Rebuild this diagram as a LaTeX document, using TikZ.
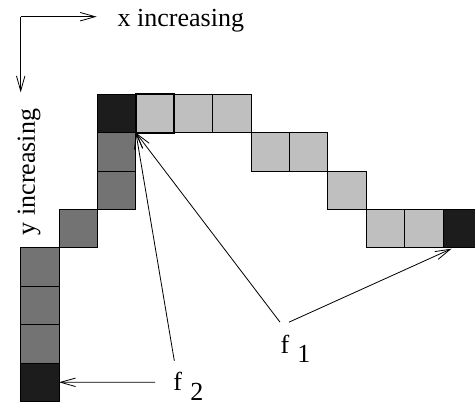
\documentclass[tikz,border=0pt]{standalone}
\usepackage{fontspec}
\setmainfont{Liberation Serif}
\usetikzlibrary{arrows.meta,positioning,calc}
\definecolor{cellblack}{gray}{0.11}
\definecolor{celldark}{gray}{0.45}
\definecolor{celllight}{gray}{0.75}
\tikzset{every picture/.style={line width=0.75pt}}
\tikzset{
  arr/.style={-{Straight Barb[length=3.9mm,width=2.2mm]}, line width=0.6pt},
  lbl/.style={inner sep=0pt, font=\fontsize{19.3}{23}\selectfont},
}

\begin{document}
\begin{tikzpicture}
    \useasboundingbox (-0.539,2.456) rectangle (11.831,-8.091);
    % Achsen
    \coordinate (o) at (0,2.021);
    \coordinate (xe) at (1.979,2.021);
    \coordinate (ye) at (0,0.05);
    \draw[arr] (o) -- (xe);
    \draw[arr] (o) -- (ye);
    \node[lbl, anchor=base west] (xlab) at (2.508,1.753) {x increasing};
    \node[lbl, anchor=base, rotate=90] (ylab) at (0.372,-2.023) {y increasing};
    % Zellen
    \foreach \c/\r in {0/4,0/5,0/6,1/3,2/1,2/2}
        \draw[fill=celldark] (\c,-\r) rectangle ++(1,-1);
    \foreach \c/\r in {3/0,4/0,5/0,6/1,7/1,8/2,9/3,10/3}
        \draw[fill=celllight] (\c,-\r) rectangle ++(1,-1);
    \foreach \c/\r in {0/7,2/0,11/3}
        \draw[fill=cellblack] (\c,-\r) rectangle ++(1,-1);
    \draw[line width=1.5pt] (3,0) rectangle (4,-1);
    % Ziele
    \coordinate (top) at (3,-1);
    \coordinate (right) at (11.22,-4.02);
    \coordinate (bottom) at (1,-7.5);
    % Beschriftung
    \node[lbl, anchor=base west] (f1) at (6.753,-6.737)
        {f\hspace{0.216cm}\raisebox{-0.26cm}{1}};
    \node[lbl, anchor=base west] (f2) at (3.966,-7.701)
        {f\hspace{0.216cm}\raisebox{-0.26cm}{2}};
    % Pfeile
    \draw[arr] ([yshift=8.9pt]f1.north west) -- (top);
    \draw[arr] ([xshift=6.7pt,yshift=8.9pt]f1.north west) -- (right);
    \draw[arr] ([xshift=1pt,yshift=7.6pt]f2.north west) -- (top);
    \draw[arr] ([xshift=-13.3pt,yshift=5.7pt]f2.base west) -- (bottom);
\end{tikzpicture}
\end{document}
